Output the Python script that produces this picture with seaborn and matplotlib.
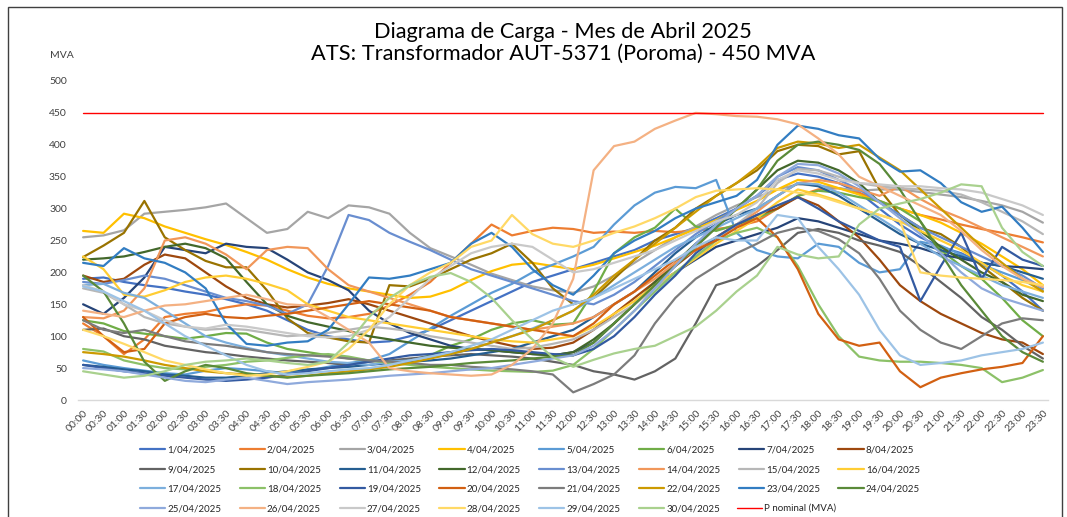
import matplotlib
matplotlib.use("Agg")
import matplotlib.pyplot as plt
from matplotlib.patches import Rectangle
import numpy as np
import pandas as pd
import seaborn as sns

sns.set_style("white")
plt.rcParams["font.family"] = ["Lato", "DejaVu Sans"]

# horas (cada 30 min)
horas = ["%02d:%02d" % (h, m) for h in range(24) for m in (0, 30)]

dias = ["%d/04/2025" % d for d in range(1, 31)]

colores = ["#4472C4", "#ED7D31", "#A5A5A5", "#FFC000", "#5B9BD5", "#70AD47",
           "#264478", "#9E480E", "#636363", "#997300", "#255E91", "#43682B",
           "#698ED0", "#F1975A", "#B7B7B7", "#FFCD33", "#7CAFDD", "#8CC168",
           "#335AA1", "#D26012", "#7C7C7C", "#CC9A00", "#327DC2", "#5A8A39",
           "#8FAADC", "#F4B183", "#C9C9C9", "#FFD966", "#9DC3E6", "#A9D18E"]

d01 = [190, 192, 185, 180, 176, 170, 165, 158, 150, 140, 125, 110, 100, 95, 90, 92, 100, 110, 125, 140, 155, 170, 185, 195,
       205, 215, 225, 235, 250, 260, 270, 285, 300, 320, 345, 355, 350, 340, 325, 300, 275, 255, 240, 230, 215, 195, 170, 140]
d02 = [120, 100, 72, 95, 130, 135, 138, 145, 150, 148, 140, 132, 128, 130, 135, 148, 165, 185, 215, 245, 275, 258, 265, 270,
       268, 262, 264, 262, 265, 263, 266, 268, 272, 280, 300, 320, 330, 332, 325, 312, 300, 290, 283, 275, 268, 262, 255, 247]
d03 = [255, 258, 266, 292, 295, 298, 302, 308, 285, 262, 268, 295, 285, 305, 302, 292, 262, 238, 225, 212, 198, 188, 178, 172,
       168, 178, 195, 215, 235, 255, 272, 290, 305, 318, 330, 338, 336, 332, 328, 330, 330, 326, 322, 318, 312, 305, 295, 278]
d04 = [265, 262, 292, 285, 272, 262, 252, 243, 232, 220, 205, 192, 182, 175, 170, 165, 160, 162, 172, 188, 202, 212, 215, 210,
       205, 212, 222, 232, 242, 255, 268, 282, 298, 312, 330, 345, 342, 332, 322, 310, 300, 290, 278, 262, 245, 225, 205, 180]
d05 = [62, 55, 50, 46, 42, 40, 46, 50, 48, 45, 42, 46, 52, 58, 62, 72, 92, 112, 132, 150, 168, 182, 200, 212,
       225, 240, 275, 305, 325, 334, 332, 345, 262, 235, 225, 222, 245, 240, 215, 200, 205, 248, 242, 228, 212, 200, 188, 172]
d06 = [125, 120, 108, 104, 100, 96, 100, 105, 104, 90, 80, 75, 70, 65, 62, 60, 62, 70, 85, 95, 110, 120, 125, 118,
       120, 170, 230, 255, 270, 300, 272, 265, 275, 285, 300, 320, 328, 325, 318, 312, 300, 280, 235, 210, 190, 160, 125, 100]
d07 = [150, 135, 160, 192, 240, 235, 230, 245, 240, 238, 220, 200, 188, 172, 140, 120, 105, 95, 85, 80, 78, 75, 72, 70,
       75, 90, 120, 150, 180, 200, 220, 240, 250, 260, 270, 285, 280, 270, 260, 250, 245, 238, 228, 222, 215, 210, 208, 205]
d08 = [195, 185, 190, 212, 228, 222, 200, 178, 160, 150, 145, 148, 152, 158, 150, 140, 130, 120, 110, 100, 92, 85, 80, 82,
       90, 110, 135, 160, 185, 210, 235, 255, 275, 290, 300, 318, 305, 280, 255, 220, 180, 155, 135, 120, 105, 95, 90, 72]
d09 = [110, 112, 100, 95, 85, 80, 75, 72, 68, 65, 62, 60, 58, 55, 60, 62, 65, 68, 70, 72, 70, 68, 65, 60,
       55, 45, 40, 32, 45, 65, 120, 180, 190, 210, 235, 262, 268, 262, 250, 242, 232, 210, 185, 160, 130, 110, 85, 65]
d10 = [224, 242, 262, 312, 255, 235, 218, 208, 208, 172, 128, 105, 98, 92, 90, 180, 178, 190, 205, 220, 230, 245, 215, 175,
       150, 160, 190, 220, 250, 270, 300, 320, 340, 360, 390, 400, 398, 385, 390, 330, 290, 270, 260, 240, 210, 185, 160, 140]
d11 = [55, 52, 48, 45, 40, 38, 35, 35, 38, 42, 45, 48, 50, 52, 55, 58, 60, 62, 65, 70, 75, 80, 90, 100,
       110, 130, 150, 170, 200, 230, 255, 275, 290, 300, 320, 340, 335, 320, 300, 280, 260, 245, 235, 225, 215, 210, 200, 190]
d12 = [220, 222, 225, 232, 240, 245, 238, 222, 185, 150, 132, 122, 115, 108, 100, 95, 90, 85, 82, 80, 78, 75, 72, 70,
       75, 95, 120, 150, 185, 215, 245, 270, 300, 330, 360, 375, 372, 360, 340, 310, 290, 265, 240, 220, 200, 185, 165, 155]
d13 = [185, 182, 188, 195, 190, 180, 170, 160, 155, 148, 135, 150, 210, 290, 282, 262, 248, 235, 220, 205, 195, 185, 175, 165,
       155, 150, 165, 185, 210, 235, 260, 280, 300, 320, 350, 365, 360, 345, 330, 310, 290, 270, 255, 240, 225, 210, 195, 175]
d14 = [130, 128, 140, 175, 250, 255, 245, 228, 205, 235, 240, 238, 205, 180, 170, 160, 150, 140, 130, 125, 120, 115, 110, 115,
       120, 130, 150, 170, 190, 215, 235, 255, 275, 295, 320, 340, 345, 340, 330, 320, 335, 315, 298, 285, 270, 255, 240, 225]
d15 = [175, 168, 150, 130, 120, 115, 110, 112, 110, 105, 100, 102, 105, 110, 115, 112, 108, 100, 95, 90, 85, 80, 82, 88,
       95, 110, 130, 150, 175, 200, 225, 250, 275, 300, 340, 362, 360, 350, 340, 335, 332, 330, 328, 322, 310, 295, 280, 260]
d16 = [225, 205, 165, 162, 172, 185, 192, 195, 190, 182, 172, 150, 140, 130, 125, 120, 115, 110, 105, 100, 95, 92, 90, 95,
       100, 115, 135, 155, 180, 200, 222, 245, 265, 285, 310, 330, 322, 312, 300, 290, 280, 265, 250, 235, 215, 195, 180, 170]
d17 = [180, 182, 168, 160, 140, 120, 100, 90, 82, 75, 70, 65, 60, 58, 55, 60, 62, 68, 72, 80, 90, 100, 112, 125,
       140, 160, 180, 200, 220, 240, 255, 270, 285, 300, 320, 340, 338, 325, 305, 285, 265, 245, 225, 210, 195, 180, 170, 160]
d18 = [80, 76, 62, 55, 50, 48, 52, 55, 60, 62, 66, 70, 72, 68, 62, 58, 55, 52, 50, 48, 46, 45, 44, 46,
       55, 80, 110, 140, 170, 200, 225, 250, 262, 270, 255, 210, 150, 100, 68, 62, 60, 60, 58, 55, 50, 28, 35, 47]
d19 = [55, 50, 45, 42, 38, 35, 32, 30, 32, 35, 40, 45, 50, 55, 60, 65, 70, 72, 75, 78, 80, 78, 75, 72,
       70, 80, 100, 130, 165, 195, 230, 255, 275, 290, 305, 318, 300, 280, 265, 250, 240, 155, 210, 262, 190, 240, 220, 210]
d20 = [130, 100, 75, 80, 120, 130, 135, 130, 128, 132, 135, 140, 145, 150, 155, 150, 145, 140, 130, 125, 120, 115, 110, 105,
       100, 120, 150, 170, 195, 220, 235, 250, 270, 285, 255, 205, 135, 95, 85, 90, 45, 20, 35, 42, 48, 52, 58, 100]
d21 = [125, 110, 105, 110, 100, 92, 88, 85, 80, 75, 72, 70, 68, 65, 62, 60, 58, 55, 55, 52, 50, 48, 45, 40,
       12, 25, 40, 70, 120, 160, 190, 210, 230, 245, 262, 270, 265, 252, 230, 190, 140, 110, 90, 80, 100, 120, 128, 125]
d22 = [75, 72, 68, 62, 55, 50, 45, 42, 40, 38, 36, 38, 42, 45, 48, 52, 58, 65, 72, 80, 90, 100, 110, 125,
       140, 165, 195, 220, 245, 270, 295, 320, 340, 365, 395, 405, 402, 395, 400, 380, 360, 330, 300, 270, 240, 215, 190, 170]
d23 = [215, 210, 238, 222, 215, 200, 175, 120, 88, 85, 90, 92, 110, 150, 192, 190, 195, 205, 215, 245, 262, 240, 205, 180,
       165, 195, 230, 250, 265, 285, 300, 310, 320, 345, 400, 430, 425, 415, 410, 378, 358, 360, 340, 310, 295, 303, 270, 232]
d24 = [195, 170, 120, 60, 30, 45, 55, 50, 42, 38, 35, 38, 40, 42, 45, 48, 50, 52, 55, 58, 60, 62, 65, 68,
       70, 90, 120, 150, 180, 210, 240, 270, 300, 330, 375, 400, 405, 400, 392, 370, 330, 280, 230, 180, 140, 100, 75, 60]
d25 = [50, 48, 45, 40, 35, 30, 28, 32, 35, 30, 25, 28, 30, 32, 35, 38, 40, 42, 45, 48, 50, 55, 60, 65,
       70, 85, 110, 140, 175, 210, 245, 275, 300, 320, 350, 370, 368, 355, 335, 310, 285, 260, 230, 200, 175, 160, 150, 140]
d26 = [140, 135, 130, 140, 148, 150, 155, 160, 165, 158, 150, 148, 130, 110, 90, 50, 45, 42, 40, 38, 40, 55, 80, 120,
       190, 360, 398, 405, 425, 438, 450, 448, 445, 444, 440, 432, 410, 385, 350, 335, 320, 305, 290, 265, 235, 210, 190, 177]
d27 = [180, 170, 150, 140, 125, 115, 112, 118, 115, 110, 105, 100, 98, 100, 110, 130, 160, 190, 210, 230, 240, 245, 240, 220,
       200, 205, 215, 225, 235, 250, 265, 280, 290, 310, 345, 360, 355, 345, 340, 338, 335, 335, 332, 330, 325, 315, 305, 290]
d28 = [110, 100, 88, 75, 62, 55, 48, 42, 38, 40, 45, 52, 60, 80, 110, 150, 180, 200, 215, 240, 250, 290, 260, 245,
       240, 250, 262, 272, 285, 300, 318, 328, 330, 332, 330, 325, 320, 310, 300, 290, 280, 200, 195, 192, 190, 188, 185, 180]
d29 = [178, 170, 155, 140, 120, 100, 85, 70, 55, 45, 40, 42, 45, 48, 50, 55, 62, 68, 75, 85, 95, 110, 125, 140,
       150, 160, 175, 190, 205, 220, 240, 255, 250, 250, 290, 285, 240, 205, 165, 110, 70, 55, 58, 62, 70, 75, 80, 90]
d30 = [45, 40, 35, 38, 45, 55, 60, 62, 65, 62, 58, 55, 60, 90, 130, 160, 180, 193, 199, 185, 160, 125, 95, 67,
       52, 63, 73, 80, 85, 100, 115, 140, 170, 195, 240, 228, 222, 225, 275, 300, 308, 315, 325, 338, 335, 270, 232, 210]
p_nominal = [450] * 48

series = [d01, d02, d03, d04, d05, d06, d07, d08, d09, d10, d11, d12, d13, d14, d15,
          d16, d17, d18, d19, d20, d21, d22, d23, d24, d25, d26, d27, d28, d29, d30]

rows = []
for dia, vals in zip(dias, series):
    for i, v in enumerate(vals):
        rows.append([i, v, dia])
df = pd.DataFrame(rows, columns=["idx", "MVA", "dia"])
df_p = pd.DataFrame({"idx": range(48), "MVA": p_nominal, "dia": "P nominal (MVA)"})

fig = plt.figure(figsize=(10.67, 5.17), dpi=100)
ax = fig.add_axes([78 / 1067, 1 - 400 / 517, 970 / 1067, 319 / 517])

sns.lineplot(data=df, x="idx", y="MVA", hue="dia", palette=colores, linewidth=1.6, ax=ax)
sns.lineplot(data=df_p, x="idx", y="MVA", hue="dia", palette=["#FF0000"], linewidth=1.0, ax=ax)

h, l = ax.get_legend_handles_labels()
ax.get_legend().remove()

ax.set_xlim(-0.25, 47.25)
ax.set_ylim(0, 500)
ax.set_yticks(np.arange(0, 501, 50))
ax.set_xticks(range(48))
ax.set_xticklabels(horas, rotation=45, ha="right", va="top", rotation_mode="anchor")
ax.tick_params(axis="both", length=0, labelsize=7.5, colors="#404040")
ax.tick_params(axis="x", pad=6)
ax.tick_params(axis="y", pad=8)
ax.set_xlabel("")
ax.set_ylabel("")
for s in ["top", "right", "left"]:
    ax.spines[s].set_visible(False)
ax.spines["bottom"].set_color("#D9D9D9")
ax.spines["bottom"].set_linewidth(1.0)
ax.grid(False)

fig.text(0.5277, 1 - 43 / 517, "Diagrama de Carga - Mes de Abril 2025\nATS: Transformador AUT-5371 (Poroma) - 450 MVA",
         ha="center", va="center", fontsize=15.7, linespacing=1.15, color="#000000")
fig.text(62 / 1067, 1 - 55 / 517, "MVA", ha="center", va="center", fontsize=7.5, color="#404040")

# orden por filas (8 columnas, como en Excel)
orden = [r * 8 + c for c in range(8) for r in range(4) if r * 8 + c < 30]
leg_kw = dict(frameon=False, fontsize=7, handlelength=2.6, handletextpad=0.2,
              borderpad=0, borderaxespad=0, labelspacing=1.1, columnspacing=1.9, loc="upper left")
fig.legend([h[i] for i in orden], [l[i] for i in orden], ncol=8,
           bbox_to_anchor=(140 / 1067, 1 - 445.5 / 517), **leg_kw)
fig.legend(h[30:], l[30:], ncol=1, bbox_to_anchor=(737 / 1067, 1 - 504 / 517), **leg_kw)

fig.patches.append(Rectangle((8 / 1067, -0.05), 1054 / 1067, 1.05 - 7 / 517, transform=fig.transFigure,
                             fill=False, edgecolor="#404040", linewidth=1.0))

fig.savefig("out.png", dpi=100)
